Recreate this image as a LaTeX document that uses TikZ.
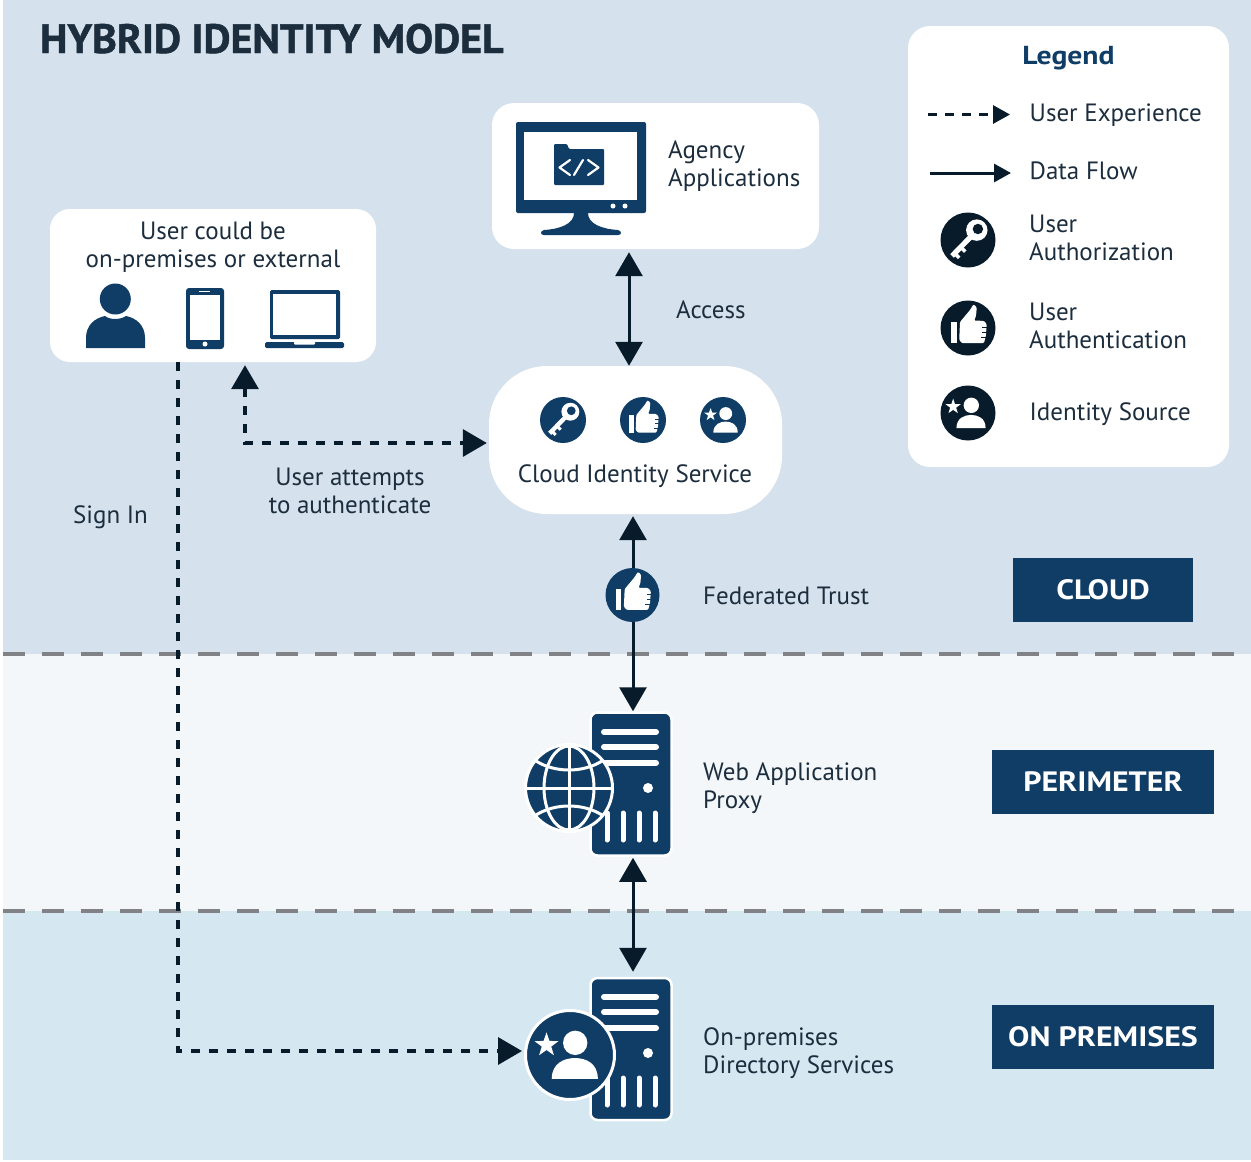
\documentclass[tikz,border=0pt]{standalone}
\usepackage{fontspec}
\usetikzlibrary{arrows.meta,calc}
\setmainfont{PT Sans}
\newfontfamily\titlefont[FakeStretch=1.02,FakeBold=1.2]{PT Sans}
\newfontfamily\zonefont[FakeStretch=1.14]{PT Sans}
\definecolor{navy}{HTML}{0F3D66}
\definecolor{ink}{HTML}{071B2B}
\definecolor{txt}{HTML}{1C2D3D}
\definecolor{bandcloud}{HTML}{D5E2ED}
\definecolor{bandperim}{HTML}{F3F7FA}
\definecolor{bandprem}{HTML}{D5E7F1}
\definecolor{zonegray}{HTML}{808285}
\tikzset{
  whitebox/.style={fill=white,inner sep=0pt,rounded corners=#1},
  lbl/.style={font=\fontsize{25}{28}\selectfont,text=txt,inner sep=0pt},
  zonebox/.style={fill=navy,text=white,inner sep=0pt,font=\zonefont\bfseries\fontsize{28}{30}\selectfont},
  iconc/.style={circle,fill=navy,inner sep=0pt,minimum size=#1},
  legc/.style={circle,fill=ink,inner sep=0pt,minimum size=55pt},
  flowline/.style={draw=ink,line width=3pt},
  uxline/.style={draw=ink,line width=3.5pt,dash pattern=on 9pt off 9pt},
  bigtip/.style={>={Triangle[length=24pt,width=27pt]}},
  smalltip/.style={>={Triangle[length=17pt,width=18pt]}},
  zoneline/.style={draw=zonegray,line width=4pt,dash pattern=on 22pt off 17pt},
}
% r = radius, #4 = foreground, #5 = background
\newcommand{\keyicon}[5]{%
\begin{scope}[shift={(#1,#2)},scale=#3]
 \fill[#4] (.32,-.36) circle (.39);
 \draw[#4,line width=.19*#3 pt] (.2,-.22) -- (-.58,.58);
 \draw[#4,line width=.13*#3 pt] (-.28,.24) -- (-.1,.42);
 \draw[#4,line width=.13*#3 pt] (-.5,.47) -- (-.32,.65);
 \fill[#5] (.36,-.4) circle (.19);
\end{scope}}
\newcommand{\thumbicon}[5]{%
\begin{scope}[shift={(#1,#2)},scale=#3]
 \fill[#4] (-.62,-.22) rectangle (-.41,.55);
 \fill[#4,rounded corners=.04*#3 pt] (-.29,-.22) -- (.07,-.65) -- (.2,-.86) -- (.32,-.75) -- (.29,-.43) -- (.22,-.27) -- (.58,-.26) -- (.68,-.14) -- (.65,.29) -- (.58,.55) -- (-.22,.55) -- (-.32,.43) -- cycle;
 \draw[#5,line width=.04*#3 pt] (.52,-.02) -- (.72,-.02) (.52,.17) -- (.72,.17) (.48,.36) -- (.7,.36);
\end{scope}}
\newcommand{\staricon}[5]{%
\begin{scope}[shift={(#1,#2)},scale=#3]
 \fill[#4] (.12,-.28) circle (.28);
 \fill[#4] (-.42,.55) .. controls (-.42,.18) and (-.12,.07) .. (.11,.07) .. controls (.36,.07) and (.64,.18) .. (.64,.55) -- cycle;
 \fill[#4,shift={(-.54,-.23)}] (0,-.29) -- (-.068,-.093) -- (-.276,-.09) -- (-.109,.036) -- (-.17,.235) -- (0,.115) -- (.17,.235) -- (.109,.036) -- (.276,-.09) -- (.068,-.093) -- cycle;
\end{scope}}
% server details, #1 = top y
\newcommand{\serverdetail}[1]{%
\begin{scope}[shift={(0,#1)}]
 \draw[white,line width=6pt,line cap=round] (604,18) -- (656,18) (604,33) -- (656,33) (604,49) -- (656,49);
 \fill[white] (648,74) circle (5);
 \draw[white,line width=5pt,line cap=round] (607,99) -- (607,126) (623,99) -- (623,126) (639,99) -- (639,126) (655,99) -- (655,126);
\end{scope}}
\begin{document}
\begin{tikzpicture}[x=1pt,y=-1pt]
\useasboundingbox (0,0) rectangle (1251,1162);
\fill[white] (0,0) rectangle (1251,1162);
\fill[bandcloud] (3,0) rectangle (1251,654);
\fill[bandperim] (3,654) rectangle (1251,911);
\fill[bandprem] (3,911) rectangle (1251,1160);
\coordinate (zone1a) at (3,654); \coordinate (zone1b) at (1251,654);
\coordinate (zone2a) at (3,911); \coordinate (zone2b) at (1251,911);
\draw[zoneline] (zone1a) -- (zone1b);
\draw[zoneline] (zone2a) -- (zone2b);

\node[anchor=base west,inner sep=0pt,text=txt,font=\titlefont\bfseries\fontsize{41}{44}\selectfont] (title) at (40,53) {HYBRID IDENTITY MODEL};

% boxes
\node[whitebox=20pt,minimum width=326pt,minimum height=153pt] (user) at (213,285.5) {};
\node[whitebox=22pt,minimum width=327pt,minimum height=146pt] (app) at (655.5,176) {};
\node[whitebox=58pt,minimum width=293pt,minimum height=148pt] (cloud) at (635.5,440) {};
\node[whitebox=22pt,minimum width=321pt,minimum height=441pt] (legend) at (1068.5,246.5) {};

% user box
\node[lbl,align=center] (usertxt) at (213,247) {User could be\\on-premises or external};
\fill[navy] (115.3,299) circle (15.5);
\fill[navy] (86,348) -- (86,338) .. controls (86,325) and (95,318) .. (105,316) .. controls (110,320) and (120,320) .. (126,316) .. controls (136,318) and (145,325) .. (145,338) -- (145,348) -- cycle;
\fill[navy,rounded corners=3pt] (186,288) rectangle (224,349);
\fill[white] (190,295) rectangle (220,340);
\draw[white,line width=1.5pt] (199,291.7) -- (210,291.7);
\fill[white] (205,344) circle (2.5);
\fill[navy,rounded corners=1.5pt] (270,290) rectangle (340,339);
\fill[white] (273,294) rectangle (336,335);
\fill[navy,rounded corners=1.5pt] (265,342) rectangle (344,348);
\fill[white,rounded corners=1pt] (294,341) rectangle (315,344.5);

% app box
\fill[navy,rounded corners=2pt] (516,122) rectangle (646,213);
\fill[white] (524,132) rectangle (637,200);
\fill[white] (613,206) circle (2.5) (625,206) circle (2.5);
\fill[navy] (574,213) .. controls (574,224) and (560,229) .. (544,230) .. controls (540,231) and (540,235) .. (544,235) -- (618,235) .. controls (622,235) and (622,231) .. (618,230) .. controls (602,229) and (588,224) .. (588,213) -- cycle;
\fill[navy,rounded corners=1pt] (554,185) -- (554,144) -- (567,144) -- (569,149) -- (604,149) -- (604,185) -- cycle;
\draw[white,line width=2.2pt,line cap=round,line join=round] (570,160) -- (559.5,167.5) -- (570,175) (574,175) -- (583,160) (588,160) -- (598.5,167.5) -- (588,175);
\node[lbl,align=left,anchor=west] (apptxt) at (668,166) {Agency\\Applications};

% cloud box
\node[iconc=46pt] (ckey) at (563,420) {};
\node[iconc=46pt] (cthumb) at (643,420) {};
\node[iconc=46pt] (cstar) at (723,420) {};
\keyicon{563}{420}{23}{white}{navy}
\thumbicon{643}{420}{23}{white}{navy}
\staricon{723}{420}{23}{white}{navy}
\node[lbl,anchor=base] (cloudtxt) at (635,482) {Cloud Identity Service};

% perimeter server
\node[fill=navy,draw=white,line width=2.5pt,rounded corners=7pt,inner sep=0pt,minimum width=81pt,minimum height=143pt] (websrv) at (631,784) {};
\serverdetail{714}
\node[circle,fill=navy,draw=white,line width=3pt,inner sep=0pt,minimum size=87pt] (globe) at (569,788) {};
\begin{scope}[shift={(569,788)}]
 \draw[white,line width=3pt] (0,0) ellipse (25 and 42);
 \draw[white,line width=3pt] (0,-42) -- (0,42) (-42,0) -- (42,0);
 \draw[white,line width=3pt] (-33,-27) .. controls (-14,-15) and (14,-15) .. (33,-27);
 \draw[white,line width=3pt] (-33,27) .. controls (-14,15) and (14,15) .. (33,27);
\end{scope}

% on-premises server
\node[fill=navy,draw=white,line width=2.5pt,rounded corners=7pt,inner sep=0pt,minimum width=81pt,minimum height=142pt] (dirsrv) at (631,1049) {};
\serverdetail{979}
\node[circle,fill=navy,draw=white,line width=3pt,inner sep=0pt,minimum size=89pt] (dirc) at (570,1055) {};
\staricon{570}{1055}{43.5}{white}{navy}

% connectors
\draw[flowline,bigtip,<->,shorten <=3pt] ([xshift=-26.5pt]app.south) -- ([xshift=-6.5pt]cloud.north);
\draw[flowline,bigtip,<->,shorten <=2pt,shorten >=0pt] ([xshift=-2.5pt]cloud.south) -- ([xshift=2pt]websrv.north);
\draw[flowline,bigtip,<->,shorten <=1pt,shorten >=5pt] ([xshift=2pt]websrv.south) -- ([xshift=2pt]dirsrv.north);
\draw[uxline,bigtip,<->,shorten <=3pt,shorten >=2pt] ([xshift=32pt]user.south) |- ([yshift=-3pt]cloud.west);
\draw[uxline,bigtip,->,shorten >=2pt] ([xshift=-35pt]user.south) |- ([yshift=4pt]dirc.west);

% federated badge
\node[iconc=54pt] (fed) at (632.5,595) {};
\thumbicon{632.5}{595}{27}{white}{navy}

% labels
\node[lbl,anchor=base west] (access) at (676,318) {Access};
\node[lbl,align=center] (attempt) at (350,490.5) {User attempts\\to authenticate};
\node[lbl,anchor=base west] (signin) at (73,523) {Sign In};
\node[lbl,anchor=base west] (fedtxt) at (703,604) {Federated Trust};
\node[lbl,align=left,anchor=west] (webtxt) at (703,788.5) {Web Application\\Proxy};
\node[lbl,align=left,anchor=west] (dirtxt) at (703,1053.5) {On-premises\\Directory Services};

% zone labels
\node[zonebox,minimum width=180pt,minimum height=64pt] (zcloud) at (1103,590) {\raisebox{-2pt}{CLOUD}};
\node[zonebox,minimum width=222pt,minimum height=64pt] (zperim) at (1103,782) {\raisebox{-1pt}{PERIMETER}};
\node[zonebox,minimum width=222pt,minimum height=64pt] (zprem) at (1103,1037) {\raisebox{1pt}{ON PREMISES}};

% legend
\node[anchor=base,inner sep=0pt,text=navy,font=\zonefont\bfseries\fontsize{26}{28}\selectfont] (legtitle) at (1068.5,64) {Legend};
\coordinate (leg1a) at (928,114.5); \coordinate (leg1b) at (1010,114.5);
\coordinate (leg2a) at (930,173); \coordinate (leg2b) at (1011,173);
\draw[uxline,smalltip,->,line width=3pt,dash pattern=on 9pt off 8pt] (leg1a) -- (leg1b);
\draw[flowline,smalltip,->] (leg2a) -- (leg2b);
\node[lbl,anchor=base west] (leg1t) at (1029.5,121) {User Experience};
\node[lbl,anchor=base west] (leg2t) at (1029.5,179) {Data Flow};
\node[legc] (legkey) at (968,240) {};
\node[legc] (legthumb) at (968,328) {};
\node[legc] (legstar) at (968,413) {};
\keyicon{968}{240}{27.5}{white}{ink}
\thumbicon{968}{328}{27.5}{white}{ink}
\staricon{968}{413}{27.5}{white}{ink}
\node[lbl,align=left,anchor=west] (leg3t) at (1029,238) {User\\Authorization};
\node[lbl,align=left,anchor=west] (leg4t) at (1029,326) {User\\Authentication};
\node[lbl,anchor=base west] (leg5t) at (1029.5,420) {Identity Source};
\end{tikzpicture}
\end{document}
